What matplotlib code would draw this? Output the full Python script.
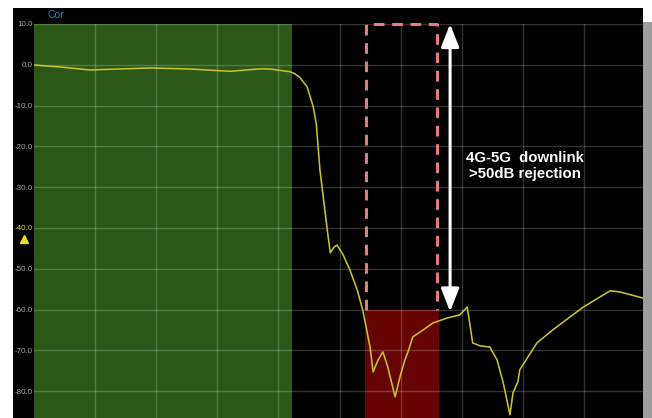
import matplotlib
matplotlib.use("Agg")
import matplotlib.pyplot as plt
from matplotlib.patches import Rectangle
from matplotlib.transforms import blended_transform_factory

# ---- data (x in screen divisions 0..10, y in dB) ----
trace_x = [0.00, 0.43, 0.92, 1.90, 2.55, 3.21, 3.70, 3.86, 4.19, 4.27, 4.35, 4.47, 4.57,
           4.62, 4.68, 4.76, 4.81, 4.85, 4.91, 4.96, 5.06, 5.17, 5.29, 5.38, 5.50, 5.55,
           5.63, 5.71, 5.79, 5.91, 5.99, 6.07, 6.12, 6.20, 6.37, 6.53, 6.76, 6.97,
           7.09, 7.18, 7.30, 7.46, 7.58, 7.68, 7.79, 7.84, 7.92, 7.95, 8.23, 8.49,
           8.99, 9.43, 9.59, 9.97]
trace_db = [-0.05, -0.54, -1.27, -0.78, -1.03, -1.6, -1.0, -1.03, -1.7, -2.2, -3.1, -5.4, -10.3,
            -14.5, -25.8, -35.6, -41.7, -46.1, -44.7, -44.2, -46.6, -50.3, -55.2, -60.1, -69.2, -75.3,
            -72.4, -70.4, -74.1, -81.4, -76.5, -72.4, -70.4, -66.7, -65.0, -63.3, -62.1, -61.3,
            -59.4, -68.2, -68.9, -69.2, -72.4, -78.0, -85.8, -80.4, -77.7, -74.8, -68.2, -65.0,
            -59.4, -55.4, -55.7, -57.2]
ytick_vals = [10, 0, -10, -20, -30, -40, -50, -60, -70, -80]
ytick_labels = ["10.0", "0.0", "-10.0", "-20.0", "-30.0", "-40.0", "-50.0", "-60.0", "-70.0", "-80.0"]
passband = [0.0, 4.22]
reject_band = [5.41, 6.63]
reject_level = -60.0
dash_box = [5.43, 6.60]
arrow_x = 6.81
ref_marker_db = -42.7
annotation = "4G-5G  downlink\n>50dB rejection"

W, H = 652, 418
fig = plt.figure(figsize=(W / 100, H / 100), dpi=100)
fig.patch.set_facecolor("white")

# screen background and side shadow
fig.add_artist(Rectangle((13 / W, 0), (643 - 13) / W, (H - 8) / H, transform=fig.transFigure,
                         facecolor="black", edgecolor="none", zorder=-1))
fig.add_artist(Rectangle((643 / W, 0), 9 / W, (H - 22) / H, transform=fig.transFigure,
                         facecolor="#9c9c9c", edgecolor="none", zorder=5))

ax = fig.add_axes([34 / W, 0, (645 - 34) / W, (H - 24) / H])
ax.set_facecolor("black")
ax.set_xlim(0, 10)
ax.set_ylim(-86.6, 10)
for s in ax.spines.values():
    s.set_visible(False)

ax.set_xticks(range(1, 10))
ax.set_yticks(ytick_vals)
ax.set_yticklabels(ytick_labels)
ax.tick_params(axis="x", length=0, labelbottom=False)
ax.tick_params(axis="y", length=0, pad=1, labelsize=5.8, labelcolor="#a8a8a8")
for lab in ax.get_yticklabels():
    lab.set_fontfamily("Liberation Sans")
    if lab.get_text() == "-40.0":
        lab.set_color("#d8d020")
ax.grid(True, color="white", alpha=0.2, linewidth=1.0)

# shaded regions
ax.axvspan(passband[0], passband[1], color="#2b5816", zorder=1, linewidth=0)
ax.fill_between(reject_band, [-86.6, -86.6], [reject_level, reject_level],
                color="#660404", zorder=1, linewidth=0)

# trace
ax.plot(trace_x, trace_db, color="#c8c030", linewidth=1.15, zorder=3)

# dashed box
ax.plot([dash_box[0], dash_box[0], dash_box[1], dash_box[1]],
        [reject_level, 10, 10, reject_level], color="#e87a7a", linewidth=2.2,
        dashes=(3.5, 2.5), clip_on=False, zorder=4)

# double arrow
ax.annotate("", xy=(arrow_x, 10), xytext=(arrow_x, reject_level - 0.5),
            arrowprops=dict(arrowstyle="<|-|>,head_length=1.4,head_width=0.55",
                            color="white", linewidth=2.2, shrinkA=0, shrinkB=0),
            annotation_clip=False, zorder=6)

ax.text(8.03, -24.8, annotation, color="white", fontsize=10.8, fontweight="bold",
        family="Liberation Sans", ha="center", va="center", linespacing=1.2, zorder=6)

# reference marker
tr = blended_transform_factory(fig.transFigure, ax.transData)
ax.plot([24 / W], [ref_marker_db], marker="^", color="#e8e020", markersize=6.2,
        transform=tr, clip_on=False, zorder=6)

fig.text(47 / W, 1 - 18 / H, "Cor", color="#2a88c0", fontsize=7.5, family="Liberation Sans")

fig.savefig("out.png", dpi=100, facecolor=fig.get_facecolor())
